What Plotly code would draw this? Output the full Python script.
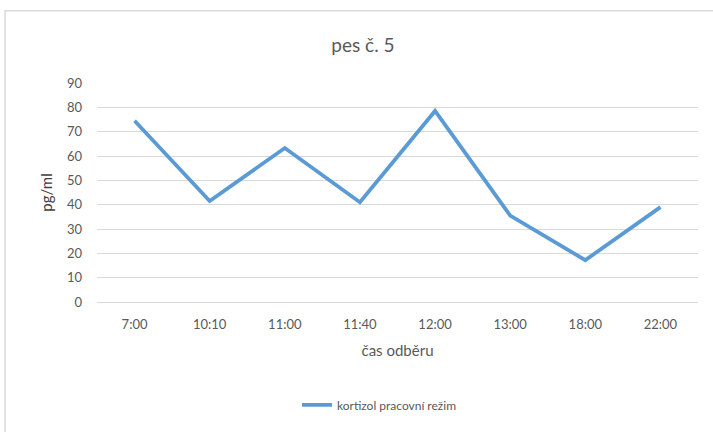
import plotly.graph_objects as go

# sampling times and cortisol values (pg/ml)
casy = ['7:00', '10:10', '11:00', '11:40', '12:00', '13:00', '18:00', '22:00']
kortizol = [74.5, 41.5, 63.3, 41.0, 78.5, 35.5, 17.2, 39.0]

FONT = 'Lato'
GRAY = '#595959'

fig = go.Figure(go.Scatter(
    x=casy,
    y=kortizol,
    mode='lines',
    name='kortizol pracovní režim',
    line=dict(color='#5B9BD5', width=3.8),
))

fig.update_layout(
    width=713,
    height=432,
    title=dict(text='pes č. 5', x=0.509, xref='container', xanchor='center',
               y=0.895, yanchor='middle',
               font=dict(family=FONT, size=19, color=GRAY)),
    font=dict(family=FONT, size=13, color=GRAY),
    paper_bgcolor='white',
    plot_bgcolor='white',
    margin=dict(l=97, r=15, t=83, b=128),
    xaxis=dict(
        title=dict(text='čas odběru', font=dict(size=15, color=GRAY), standoff=14),
        range=[-0.5, len(casy) - 0.5],
        showgrid=False, zeroline=False, ticks='', showline=False,
        tickfont=dict(size=13, color=GRAY), ticklabelstandoff=13,
        automargin=False,
    ),
    yaxis=dict(
        title=dict(text='pg/ml', font=dict(size=15, color='#404040'), standoff=10),
        range=[0, 90], dtick=10, showgrid=True, gridcolor='#D9D9D9', gridwidth=1.2,
        zeroline=True, zerolinecolor='#D9D9D9', zerolinewidth=1.2,
        ticks='', tickfont=dict(size=13, color=GRAY), ticklabelstandoff=14,
        automargin=False,
    ),
    showlegend=True,
    legend=dict(orientation='h', x=0.47, xanchor='center', y=-0.47, yanchor='middle',
                font=dict(size=12, color=GRAY)),
    shapes=[dict(type='rect', xref='paper', yref='paper',
                 x0=-0.153, x1=1.2, y0=-0.8, y1=1.33,
                 line=dict(color='#D9D9D9', width=1.5), layer='below')],
)

# drop the default page margin so the figure sits at the window's corner
fig.write_html('out.html', config={'displayModeBar': False},
               post_script='document.body.style.margin = "0";')
